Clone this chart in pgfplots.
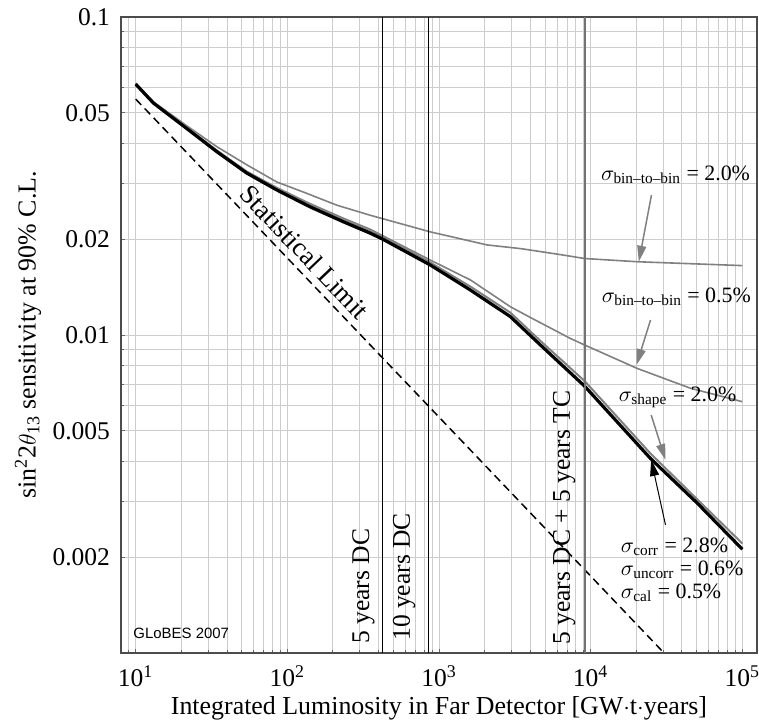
\documentclass[border=0pt]{standalone}
\usepackage{fontspec}
\setmainfont{Liberation Serif}
\setsansfont{Liberation Sans}
\usepackage{amsmath}
\usepackage{pgfplots}
\pgfplotsset{compat=1.18}
\usetikzlibrary{arrows.meta}

\definecolor{curvegray}{RGB}{128,128,128}
\definecolor{gridgray}{RGB}{205,205,205}

\begin{document}
\begin{tikzpicture}
\begin{axis}[
    name=ax,
    scale only axis, width=318bp, height=318bp,
    xmode=log, ymode=log,
    xmin=8, xmax=1.25e5,
    ymin=0.001, ymax=0.1,
    clip=false,
    xtick={10,100,1000,10000,100000},
    xticklabels={10\textsuperscript{1},10\textsuperscript{2},10\textsuperscript{3},10\textsuperscript{4},10\textsuperscript{5}},
    minor xtick={8,9,20,30,40,50,60,70,80,90,200,300,400,500,600,700,800,900,
        2000,3000,4000,5000,6000,7000,8000,9000,20000,30000,40000,50000,60000,70000,80000,90000},
    ytick={0.002,0.005,0.01,0.02,0.05,0.1},
    yticklabels={0.002,0.005,0.01,0.02,0.05,0.1},
    minor ytick={0.003,0.004,0.006,0.007,0.008,0.009,0.03,0.04,0.06,0.07,0.08,0.09},
    grid=both,
    major grid style={gridgray, line width=0.5bp},
    minor grid style={gridgray, line width=0.5bp},
    axis line style={black!70, line width=0.8bp},
    tick pos=left, tick align=inside,
    major tick length=2bp, minor tick length=1.5bp,
    every tick/.style={black!60, line width=0.5bp},
    tick label style={font=\fontsize{12.8}{15}\selectfont},
    yticklabel style={xshift=-2bp},
    xticklabel style={yshift=-3bp},
]

% bin-to-bin 2.0%
\addplot[curvegray, line width=0.8bp] coordinates {
 (10,0.0618)(13.1,0.0541)(21.7,0.0455)(34.3,0.0391)(54,0.0343)(85,0.0303)
 (134,0.0279)(212,0.0256)(352,0.0238)(877,0.0211)(2075,0.0192)(3444,0.0187)
 (6310,0.0179)(9140,0.0174)(20300,0.0170)(100000,0.01653)
};
% bin-to-bin 0.5%
\addplot[curvegray, line width=0.8bp] coordinates {
 (10,0.0618)(13.1,0.0539)(21.7,0.0449)(34.3,0.0381)(54,0.0327)(85,0.0291)
 (141,0.0259)(234,0.0233)(352,0.0215)(877,0.0172)(1611,0.0149)(2957,0.01227)
 (4010,0.01135)(7360,0.00975)(9140,0.0093)(20300,0.00785)(45600,0.0068)(100000,0.00617)
};
% shape 2.0%
\addplot[curvegray, line width=1bp] coordinates {
 (10,0.0618)(13.1,0.0539)(21.7,0.0449)(34.3,0.0380)(54,0.0326)(85,0.0289)
 (141,0.0256)(234,0.0230)(352,0.0212)(427,0.0203)(877,0.0169)(1611,0.0142)
 (2957,0.01176)(4667,0.00958)(9140,0.00716)(24800,0.00424)(100000,0.00221)
};
% total
\addplot[black, line width=1.6bp] coordinates {
 (10,0.0615)(13.1,0.0536)(21.7,0.0446)(34.3,0.0377)(54,0.0323)(85,0.0286)
 (141,0.0253)(234,0.0227)(352,0.0209)(427,0.0200)(877,0.0166)(1611,0.01385)
 (2957,0.01142)(4667,0.00930)(9140,0.0069)(24800,0.00409)(50470,0.00296)(100000,0.00212)
};
% statistical limit
\addplot[black, line width=0.75bp, dash pattern=on 4bp off 2.5bp] coordinates {
 (10,0.0552)(100,0.01746)(1000,0.00552)(10000,0.001746)(30470,0.001)
};

% exposure lines
\addplot[black, line width=0.5bp] coordinates {(427,0.001)(427,0.1)};
\addplot[black, line width=0.5bp] coordinates {(853,0.001)(853,0.1)};
\addplot[black!55, line width=1.1bp] coordinates {(9140,0.001)(9140,0.1)};

\node[rotate=90, anchor=west, inner sep=0, font=\fontsize{12.8}{15}\selectfont]
  at (axis cs:318,0.001067) {5 years DC};
\node[rotate=90, anchor=west, inner sep=0, font=\fontsize{12.8}{15}\selectfont]
  at (axis cs:590,0.00109) {10 years DC};
\node[rotate=90, anchor=west, inner sep=0, font=\fontsize{12.8}{15}\selectfont]
  at (axis cs:6700,0.00106) {5 years DC + 5 years TC};

\node[rotate=-46.4, font=\fontsize{13.5}{16}\selectfont]
  at (axis cs:130,0.01824) {Statistical Limit};

% annotations
\node[font=\fontsize{11}{13}\selectfont] at (axis cs:36300,0.03185)
  {$\sigma_{\text{bin--to--bin}}$ = 2.0\%};
\draw[curvegray, line width=0.75bp, -{Triangle[length=8bp,width=4.5bp]}]
  (axis cs:25180,0.02756) -- (axis cs:20780,0.0170);

\node[font=\fontsize{11}{13}\selectfont] at (axis cs:36800,0.01317)
  {$\sigma_{\text{bin--to--bin}}$ = 0.5\%};
\draw[curvegray, line width=0.75bp, -{Triangle[length=8bp,width=4.5bp]}]
  (axis cs:24830,0.01115) -- (axis cs:20050,0.00805);

\node[font=\fontsize{11}{13}\selectfont] at (axis cs:37440,0.00638)
  {$\sigma_{\text{shape}}$ = 2.0\%};
\draw[curvegray, line width=0.75bp, -{Triangle[length=8bp,width=4.5bp]}]
  (axis cs:25070,0.0056) -- (axis cs:31170,0.004046);

\draw[black, line width=0.5bp, -{Triangle[length=8bp,width=4.5bp]}]
  (axis cs:31170,0.002527) -- (axis cs:25070,0.004046);

\node[anchor=west, inner sep=0, font=\fontsize{11}{13}\selectfont] at (axis cs:15740,0.002154)
  {$\sigma_{\text{corr}}$ = 2.8\%};
\node[anchor=west, inner sep=0, font=\fontsize{11}{13}\selectfont] at (axis cs:15740,0.001824)
  {$\sigma_{\text{uncorr}}$ = 0.6\%};
\node[anchor=west, inner sep=0, font=\fontsize{11}{13}\selectfont] at (axis cs:15740,0.001545)
  {$\sigma_{\text{cal}}$ = 0.5\%};

\node[anchor=west, inner sep=0, font=\sffamily\fontsize{7.5}{9}\selectfont]
  at (axis description cs:0.019,0.0314) {GLoBES 2007};

% axis labels
\node[font=\fontsize{13}{15}\selectfont] at (axis description cs:0.5,-0.0865)
  {Integrated Luminosity in Far Detector [GW$\cdot$t$\cdot$years]};
\node[rotate=90, font=\fontsize{13}{15}\selectfont] at (axis description cs:-0.1462,0.5)
  {sin$^{\text{2}}$2$\theta_{\text{13}}$ sensitivity at 90\% C.L.};
\end{axis}
\pgfresetboundingbox
\path (ax.south west) ++(-60.5bp,-35.5bp) rectangle ([xshift=1bp,yshift=8.5bp]ax.north east);
\end{tikzpicture}
\end{document}
